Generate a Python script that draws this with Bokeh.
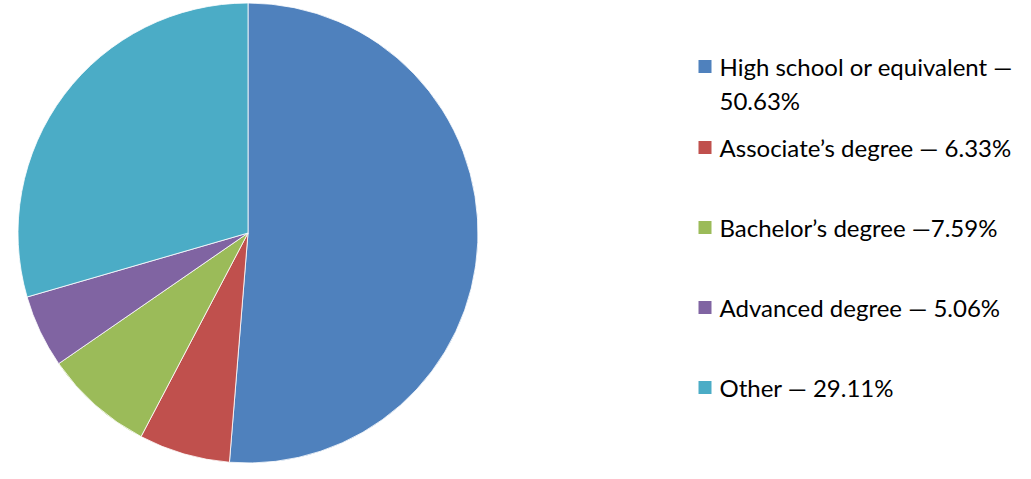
import math
from bokeh.plotting import figure
from bokeh.models import ColumnDataSource, Range1d
from bokeh.core.properties import value
from bokeh.embed import file_html
from bokeh.resources import INLINE

# Data
categories = ["High school or equivalent", "Associate\u2019s degree", "Bachelor\u2019s degree",
              "Advanced degree", "Other"]
percents = [50.63, 6.33, 7.59, 5.06, 29.11]
legend_labels = ["High school or equivalent \u2014\n50.63%", "Associate\u2019s degree \u2014 6.33%",
                 "Bachelor\u2019s degree \u20147.59%", "Advanced degree \u2014 5.06%",
                 "Other \u2014 29.11%"]
colors = ["#4F81BD", "#C0504D", "#9BBB59", "#8064A2", "#4BACC6"]

W, H = 1015, 463
def px(x):
    return x
def py(y):
    return H - y

total = sum(percents)
starts, ends = [], []
cum = 0.0
for v in percents:
    starts.append(math.pi / 2 - 2 * math.pi * cum / total)
    cum += v
    ends.append(math.pi / 2 - 2 * math.pi * cum / total)

p = figure(width=W, height=H, output_backend="svg", toolbar_location=None,
           x_range=Range1d(0, W), y_range=Range1d(0, H), min_border=0)
p.axis.visible = False
p.grid.visible = False
p.outline_line_color = None
p.background_fill_color = "white"

src = ColumnDataSource(dict(start=starts, end=ends, color=colors, cat=categories))
p.wedge(x=px(247.5), y=py(232.5), radius=230, start_angle="start", end_angle="end",
        direction="clock", fill_color="color", line_color="white", line_width=1,
        line_alpha=0.8, source=src)

# Legend
item_y = [66, 147, 227, 307, 387]
sq_x = [px(704.5)] * len(categories)
sq_y = [py(y) for y in item_y]
p.rect(x=sq_x, y=sq_y, width=13, height=13, fill_color=colors, line_color=None)

tx, ty, tt = [], [], []
for lab, y in zip(legend_labels, item_y):
    for i, line in enumerate(lab.split("\n")):
        tx.append(px(719))
        ty.append(py(y + i * 34))
        tt.append(line)
p.text(x=tx, y=ty, text=tt, text_font=value("Lato"), text_font_size="24px",
       text_baseline="middle", text_align="left", text_color="#000000")

open("out.html", "w").write(file_html(p, INLINE))
